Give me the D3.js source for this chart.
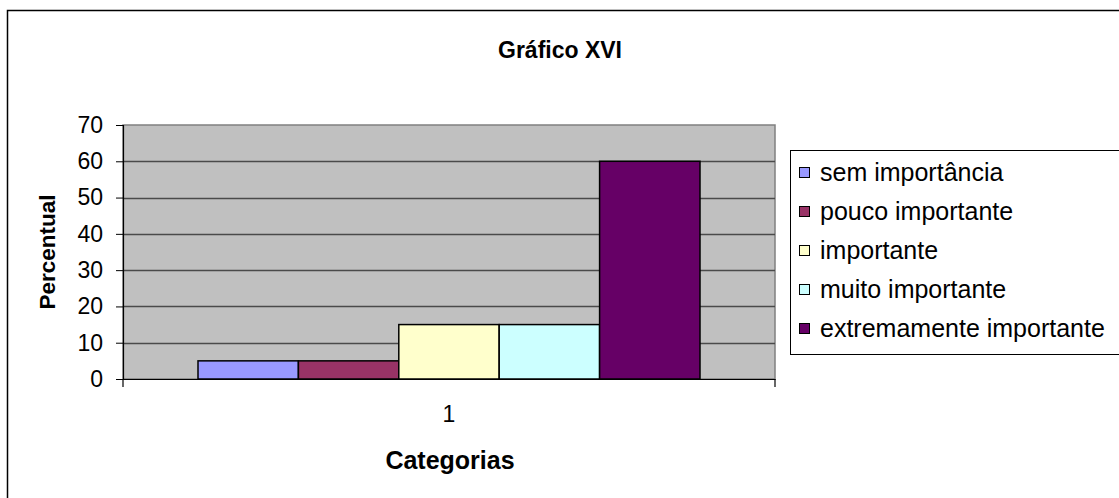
<!DOCTYPE html>
<html>
<head>
<meta charset="utf-8">
<script src="https://cdn.jsdelivr.net/npm/d3@7"></script>
<style>
  html, body { margin: 0; padding: 0; background: #fff; }
  svg { display: block; font-family: "Liberation Sans", Arial, sans-serif; }
</style>
</head>
<body>
<svg id="chart" width="1119" height="498"></svg>
<script>
// Chart data
const categories = ["1"];
const seriesNames = ["sem importância", "pouco importante", "importante", "muito importante", "extremamente importante"];
const seriesValues = [5, 5, 15, 15, 60];
const seriesColors = ["#9999FF", "#993366", "#FFFFCC", "#CCFFFF", "#660066"];
const yTicks = [0, 10, 20, 30, 40, 50, 60, 70];

const svg = d3.select("#chart");

// Outer chart frame
svg.append("rect")
  .attr("x", 7.5).attr("y", 10.5)
  .attr("width", 1130).attr("height", 500)
  .attr("fill", "#fff").attr("stroke", "#000").attr("stroke-width", 1.5);

// Plot area
const plot = { left: 123, top: 125, right: 775, bottom: 379 };

const y = d3.scaleLinear().domain([0, 70]).range([plot.bottom, plot.top]);
const x0 = d3.scaleBand().domain(categories).range([plot.left, plot.right]).paddingInner(0).paddingOuter(0);
// Bars of the group sit in the middle of the band, with a 150% gap split over both sides
const x1 = d3.scaleBand().domain(seriesNames)
  .range([x0(categories[0]) + 75, x0(categories[0]) + x0.bandwidth() - 75]);

svg.append("rect")
  .attr("x", plot.left).attr("y", plot.top)
  .attr("width", plot.right - plot.left).attr("height", plot.bottom - plot.top)
  .attr("fill", "#C0C0C0").attr("stroke", "#808080").attr("stroke-width", 1.5);

// Horizontal gridlines
svg.append("g")
  .selectAll("line")
  .data(yTicks.filter(d => d > 0 && d < 70))
  .join("line")
  .attr("x1", plot.left).attr("x2", plot.right)
  .attr("y1", d => Math.round(y(d)) + 0.5).attr("y2", d => Math.round(y(d)) + 0.5)
  .attr("stroke", "#4a4a4a").attr("stroke-width", 1.3);

// Bars
svg.append("g")
  .selectAll("rect")
  .data(seriesNames.map((n, i) => ({ name: n, value: seriesValues[i], color: seriesColors[i] })))
  .join("rect")
  .attr("x", d => x1(d.name))
  .attr("y", d => y(d.value))
  .attr("width", x1.bandwidth())
  .attr("height", d => plot.bottom - y(d.value))
  .attr("fill", d => d.color)
  .attr("stroke", "#000").attr("stroke-width", 1.5);

// Y axis
const yAxis = svg.append("g")
  .attr("transform", `translate(${plot.left},0)`)
  .call(d3.axisLeft(y).tickValues(yTicks).tickSize(7).tickPadding(13));
yAxis.select(".domain").attr("stroke", "#000").attr("stroke-width", 1.2);
yAxis.selectAll(".tick line").attr("stroke", "#000");
yAxis.selectAll(".tick text")
  .attr("font-family", "Liberation Sans, Arial, sans-serif")
  .attr("font-size", 23).attr("fill", "#000");

// X axis
const xAxis = svg.append("g")
  .attr("transform", `translate(0,${plot.bottom})`)
  .call(d3.axisBottom(x0).tickSize(0).tickPadding(27));
xAxis.select(".domain").attr("stroke", "#000").attr("stroke-width", 1.2);
xAxis.selectAll(".tick text")
  .attr("font-family", "Liberation Sans, Arial, sans-serif")
  .attr("font-size", 23).attr("fill", "#000");
// Category boundary ticks
xAxis.append("g").selectAll("line")
  .data([plot.left, plot.right])
  .join("line")
  .attr("x1", d => d).attr("x2", d => d)
  .attr("y1", 0).attr("y2", 8)
  .attr("stroke", "#000").attr("stroke-width", 1.2);

// Title
svg.append("text")
  .attr("x", 560).attr("y", 58)
  .attr("text-anchor", "middle")
  .attr("font-size", 23).attr("font-weight", "bold")
  .text("Gráfico XVI");

// Axis titles
svg.append("text")
  .attr("transform", `translate(55,${(plot.top + plot.bottom) / 2}) rotate(-90)`)
  .attr("text-anchor", "middle")
  .attr("font-size", 22.5).attr("font-weight", "bold")
  .text("Percentual");

svg.append("text")
  .attr("x", 450).attr("y", 469)
  .attr("text-anchor", "middle")
  .attr("font-size", 25).attr("font-weight", "bold")
  .text("Categorias");

// Legend
const legend = svg.append("g");
legend.append("rect")
  .attr("x", 790.5).attr("y", 150.5)
  .attr("width", 340).attr("height", 204)
  .attr("fill", "#fff").attr("stroke", "#000").attr("stroke-width", 1);

const items = legend.selectAll("g.item")
  .data(seriesNames.map((n, i) => ({ name: n, color: seriesColors[i] })))
  .join("g")
  .attr("class", "item")
  .attr("transform", (d, i) => `translate(799,${172 + i * 39})`);
items.append("rect")
  .attr("x", 0.5).attr("y", -4.5)
  .attr("width", 10).attr("height", 10)
  .attr("fill", d => d.color).attr("stroke", "#000").attr("stroke-width", 1);
items.append("text")
  .attr("x", 21).attr("y", 0)
  .attr("dy", "0.35em")
  .attr("font-size", 25)
  .text(d => d.name);
</script>
</body>
</html>
